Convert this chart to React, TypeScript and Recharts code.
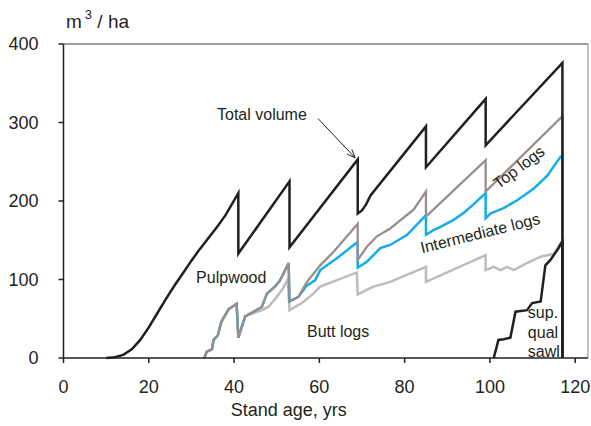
// @ts-nocheck
import React from 'react';
import { LineChart, Line, XAxis, YAxis, ReferenceLine, ReferenceDot } from 'recharts';

// total stand volume (sawtooth from thinnings, clear-cut at 117)
const totalAge = [10, 12, 14, 16, 18, 20, 22, 24, 26, 28, 30, 32, 34, 36, 38, 41, 41, 53, 53, 69, 69, 70, 71, 72, 85, 85, 99, 99, 117, 117];
const totalVol = [0, 1, 4, 11, 23, 39, 57, 75, 92, 108, 124, 139, 153, 167, 182, 210, 133, 225, 141, 253, 184, 188, 196, 207, 295, 243, 330, 271, 376, 0];

// top logs (cumulative)
const topAge = [33, 33.6, 34.8, 35.2, 36.2, 37, 38.7, 40.6, 41, 42.6, 44.6, 46.5, 47.7, 49.6, 50.8, 52.8, 53, 55.1, 57.1, 60.2, 63.3, 69, 69, 71.2, 73.5, 76.6, 82.1, 85, 85, 99, 99, 117, 117];
const topVol = [0, 8, 11, 23, 29, 46, 62, 69, 26, 53, 59, 65, 82, 91, 99, 121, 72, 78, 97, 118, 135, 171, 125, 142, 155, 165, 189, 212, 180, 252, 212, 308, 0];

// intermediate logs (cumulative)
const midAge = [33, 33.6, 34.8, 35.2, 36.2, 37, 38.7, 40.6, 41, 42.6, 44.6, 46.5, 47.7, 49.6, 50.8, 52.8, 53, 55.1, 57, 59, 60.2, 64.1, 69, 69, 71.2, 72.5, 74.3, 76.6, 80.6, 85, 85, 86.8, 88.4, 91.5, 93.9, 96.2, 99, 99, 100.1, 103.2, 106.4, 110.3, 113.4, 116.5, 117, 117];
const midVol = [0, 8, 11, 23, 29, 46, 62, 69, 26, 53, 59, 65, 82, 91, 99, 121, 72, 78, 92, 99, 112, 127, 148, 115, 123, 130, 140, 144, 157, 182, 157, 163, 167, 176, 185, 196, 210, 178, 184, 191, 201, 216, 232, 256, 258, 0];

// butt logs (cumulative)
const buttAge = [33, 33.6, 34.8, 35.2, 36.2, 37, 38.7, 40.6, 41, 42.6, 43.4, 46.5, 48, 49.6, 51.4, 52.6, 53, 55.9, 58.6, 60.2, 68.8, 69, 71.2, 72.7, 76.6, 85, 85, 99, 99, 100.9, 102.5, 104, 105.6, 108.7, 111.9, 115, 116.5, 117, 117];
const buttVol = [0, 8, 11, 23, 29, 46, 62, 69, 26, 53, 55, 61, 65, 75, 88, 100, 61, 70, 82, 91, 109, 81, 87, 91, 97, 116, 97, 131, 112, 116, 112, 116, 112, 121, 129, 133, 146, 150, 0];

// superior quality sawlogs
const supAge = [100.9, 102, 103.2, 104.8, 106, 108.7, 109.9, 111.9, 113, 114.2, 116.1, 116.7, 117, 117];
const supVol = [0, 23, 24, 26, 59, 61, 70, 72, 118, 125, 140, 146, 148, 0];

const xTicks = [0, 20, 40, 60, 80, 100, 120];
const yTicks = [0, 100, 200, 300, 400];

const pts = (xs, ys) => xs.map((x, i) => ({ x, y: ys[i] }));

const FONT = '"Liberation Sans", Arial, sans-serif';
const INK = '#231f20';

const TextAt = ({ text, anchor = 'start', rotate = 0, size = 16 }) => (p) => (
    <text
        x={p.cx}
        y={p.cy}
        fontFamily={FONT}
        fontSize={size}
        fill={INK}
        textAnchor={anchor}
        dominantBaseline={rotate ? 'central' : 'alphabetic'}
        transform={rotate ? `rotate(${rotate} ${p.cx} ${p.cy})` : undefined}
    >
        {text}
    </text>
);

const Arrow = (p) => {
    const { x1, y1, x2, y2 } = p;
    const a = Math.atan2(y2 - y1, x2 - x1);
    const L = 9;
    const s = 0.38;
    return (
        <g stroke={INK} strokeWidth={1} fill="none">
            <line x1={x1} y1={y1} x2={x2} y2={y2} />
            <line x1={x2} y1={y2} x2={x2 - L * Math.cos(a - s)} y2={y2 - L * Math.sin(a - s)} />
            <line x1={x2} y1={y2} x2={x2 - L * Math.cos(a + s)} y2={y2 - L * Math.sin(a + s)} />
        </g>
    );
};

export default function App() {
    return (
        <div style={{ position: 'absolute', left: 0, top: 0, width: 591, height: 426, background: '#fff' }}>
            <LineChart width={591} height={426} margin={{ top: 44, right: 3, bottom: 0, left: 0 }}>
                <XAxis
                    type="number"
                    dataKey="x"
                    domain={[0, 123]}
                    ticks={xTicks}
                    allowDataOverflow
                    height={68}
                    stroke={INK}
                    strokeWidth={1.5}
                    tickSize={5}
                    tickMargin={17}
                    tick={{ fontSize: 18, fontFamily: FONT, fill: INK }}
                    label={{ value: 'Stand age, yrs', position: 'insideBottom', offset: 10, dx: -37, fontSize: 18, fontFamily: FONT, fill: INK }}
                />
                <YAxis
                    type="number"
                    domain={[0, 400]}
                    ticks={yTicks}
                    width={63.5}
                    stroke={INK}
                    strokeWidth={1.5}
                    tickSize={5}
                    tickMargin={20}
                    tick={{ fontSize: 18, fontFamily: FONT, fill: INK }}
                />
                <ReferenceLine y={400} stroke="#3a3a3a" strokeWidth={1.2} />
                <ReferenceLine x={123} stroke="#9a9a9a" strokeWidth={1.2} />

                <Line data={pts(buttAge, buttVol)} dataKey="y" type="linear" stroke="#c2bab8" strokeWidth={2.5} dot={false} isAnimationActive={false} />
                <Line data={pts(midAge, midVol)} dataKey="y" type="linear" stroke="#12aee8" strokeWidth={2.5} dot={false} isAnimationActive={false} />
                <Line data={pts(topAge, topVol)} dataKey="y" type="linear" stroke="#998e8c" strokeWidth={2.3} dot={false} isAnimationActive={false} />
                <Line data={pts(supAge, supVol)} dataKey="y" type="linear" stroke={INK} strokeWidth={2.5} dot={false} isAnimationActive={false} />
                <Line data={pts(totalAge, totalVol)} dataKey="y" type="linear" stroke={INK} strokeWidth={2.5} dot={false} isAnimationActive={false} />

                <ReferenceLine segment={[{ x: 59.7, y: 305 }, { x: 68.4, y: 255 }]} shape={Arrow} />

                <ReferenceDot x={36} y={303} r={0} shape={TextAt({ text: 'Total volume' })} />
                <ReferenceDot x={31.1} y={95.5} r={0} shape={TextAt({ text: 'Pulpwood' })} />
                <ReferenceDot x={57.1} y={26.8} r={0} shape={TextAt({ text: 'Butt logs' })} />
                <ReferenceDot x={97.7} y={159} r={0} shape={TextAt({ text: 'Intermediate logs', anchor: 'middle', rotate: -14 })} />
                <ReferenceDot x={106.8} y={243} r={0} shape={TextAt({ text: 'Top logs', anchor: 'middle', rotate: -37 })} />
                <ReferenceDot x={108.9} y={51} r={0} shape={TextAt({ text: 'sup.' })} />
                <ReferenceDot x={108.9} y={25.5} r={0} shape={TextAt({ text: 'qual' })} />
                <ReferenceDot x={108.9} y={1.3} r={0} shape={TextAt({ text: 'sawl' })} />
            </LineChart>
            <svg width={200} height={40} style={{ position: 'absolute', left: 0, top: 0 }}>
                <text x={66} y={28} fontFamily={FONT} fontSize={19} fill={INK}>
                    m<tspan dx={3} dy={-9} fontSize={13}>3</tspan>
                    <tspan dy={9} fontSize={19}> / ha</tspan>
                </text>
            </svg>
        </div>
    );
}
